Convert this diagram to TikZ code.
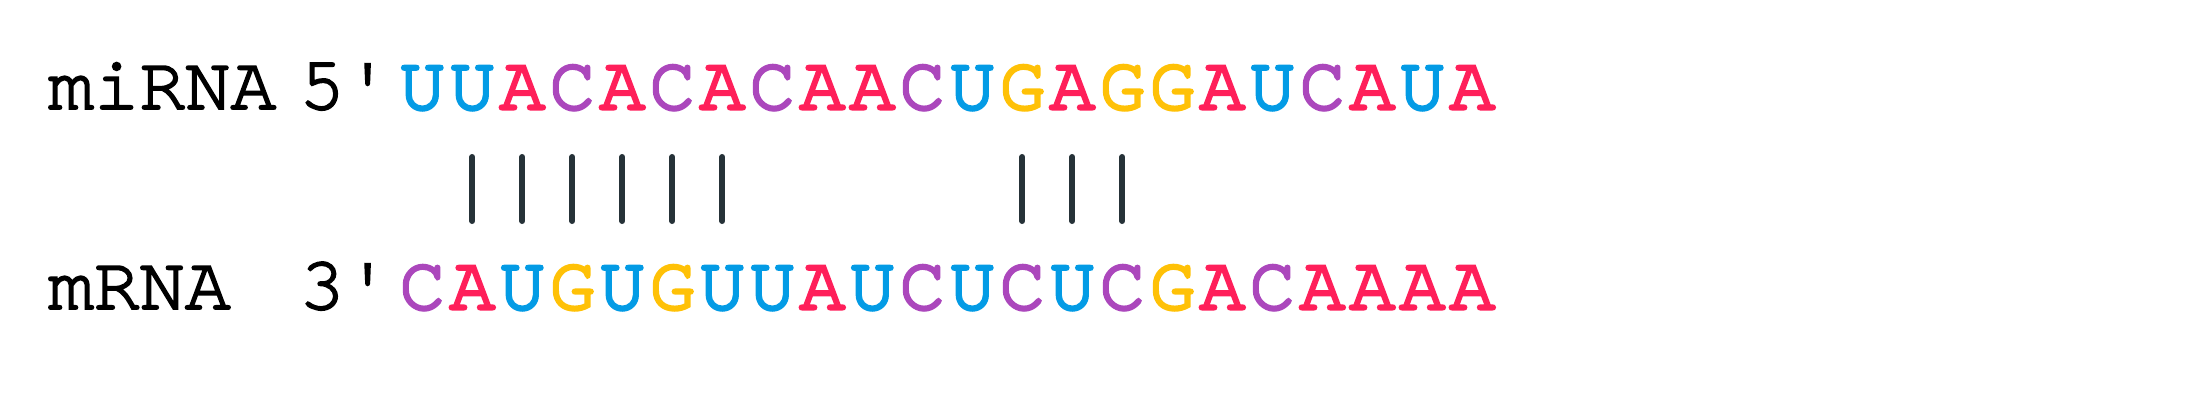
\documentclass[tikz,border=0pt]{standalone}
\usepackage{fontspec}
\newfontfamily\curfont[FakeBold=2.5]{TeX Gyre Cursor}
\newfontfamily\seqfont[FakeBold=4]{TeX Gyre Cursor}
\definecolor{colU}{HTML}{039BE5}
\definecolor{colA}{HTML}{FF1F5A}
\definecolor{colC}{HTML}{AB47BC}
\definecolor{colG}{HTML}{FFC107}
\definecolor{barcol}{HTML}{263238}
\tikzset{
  lbl/.style={anchor=base west, inner sep=0pt, font=\curfont\fontsize{76}{76}\selectfont, text=black},
  base/.style={anchor=base, inner sep=0pt, font=\seqfont\fontsize{76}{76}\selectfont},
  pairbar/.style={draw=barcol, line width=6pt, line cap=round}
}
\begin{document}
\begin{tikzpicture}[x=1pt,y=-1pt]
\useasboundingbox (0,0) rectangle (2200,400);
\node[lbl] (lmi) at (48,109) {miRNA};
\node[lbl] (lfive) at (299,109) {5'};
\node[lbl] (lm) at (48,309) {mRNA};
\node[lbl] (lthree) at (299,309) {3'};
\foreach \l [count=\i from 0] in {U,U,A,C,A,C,A,C,A,A,C,U,G,A,G,G,A,U,C,A,U,A}
  \node[base, text=col\l] (m\i) at (422.3+50*\i,109) {\l};
\foreach \l [count=\i from 0] in {C,A,U,G,U,G,U,U,A,U,C,U,C,U,C,G,A,C,A,A,A,A}
  \node[base, text=col\l] (r\i) at (422.3+50*\i,309) {\l};
\foreach \i in {1,...,6,12,13,14}
  \draw[pairbar] ([yshift=-48pt]m\i.base) -- ([yshift=88pt]r\i.base);
\end{tikzpicture}
\end{document}
